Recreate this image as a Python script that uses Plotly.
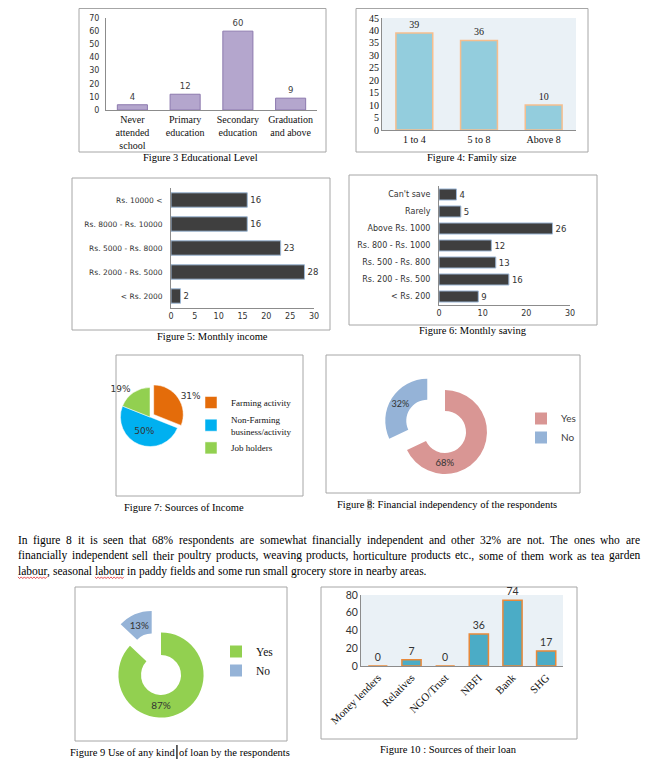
import plotly.graph_objects as go

# page body has an 8px margin: the figure is sized to fit the window without scrollbars
OFF = 8
W, H = 657 - 2 * OFF, 770 - 2 * OFF


def px_x(v):
    return (v - OFF) / W


def px_y(v):
    return 1 - (v - OFF) / H


SERIF = "Liberation Serif"
SANS = "DejaVu Sans"
CAL = "Lato"

# ---------------- data ----------------
edu_categories = ["Never<br>attended<br>school", "Primary<br>education",
                  "Secondary<br>education", "Graduation<br>and above"]
edu_values = [4, 12, 60, 9]

family_categories = ["1 to 4", "5 to 8", "Above 8"]
family_values = [39, 36, 10]

income_categories = ["< Rs. 2000", "Rs. 2000 - Rs. 5000", "Rs. 5000 - Rs. 8000",
                     "Rs. 8000 - Rs. 10000", "Rs. 10000 <"]
income_values = [2, 28, 23, 16, 16]

saving_categories = ["< Rs. 200", "Rs. 200 - Rs. 500", "Rs. 500 - Rs. 800",
                     "Rs. 800 - Rs. 1000", "Above Rs. 1000", "Rarely", "Can't save"]
saving_values = [9, 16, 13, 12, 26, 5, 4]

income_source_labels = ["Farming activity", "Non-Farming<br>business/activity", "Job holders"]
income_source_values = [31, 50, 19]

independency_labels = ["Yes", "No"]
independency_values = [68, 32]

loan_use_labels = ["Yes", "No"]
loan_use_values = [87, 13]

loan_source_categories = ["Money lenders", "Relatives", "NGO/Trust", "NBFI", "Bank", "SHG"]
loan_source_values = [0, 7, 0, 36, 74, 17]

captions = [
    ("Figure 3 Educational Level", 200, 158),
    ("Figure 4: Family size", 472, 158),
    ("Figure 5: Monthly income", 212, 336),
    ("Figure 6: Monthly saving", 473, 331),
    ("Figure 7: Sources of Income", 184, 507),
    ("Figure 10 : Sources of their loan", 448, 749),
]
caption8 = ("Figure ", "8", ": Financial independency of the respondents")
caption9 = ("Figure 9 Use of any kind", "of loan by the respondents")

paragraph = [
    "In figure 8 it is seen that 68% respondents are somewhat financially independent and other 32% are not. The ones who are",
    "financially independent sell their poultry products, weaving products, horticulture products etc., some of them work as tea garden",
    "labour, seasonal labour in paddy fields and some run small grocery store in nearby areas.",
]

# Times / Liberation Serif advance widths (1/1000 em) for text layout
TIMES = {' ': 250, ',': 250, '.': 250, '%': 833, ':': 278, '-': 333, '/': 278, "'": 333,
         'A': 722, 'B': 667, 'C': 667, 'D': 722, 'E': 611, 'F': 556, 'G': 722, 'H': 722,
         'I': 333, 'J': 389, 'K': 722, 'L': 611, 'M': 889, 'N': 722, 'O': 722, 'P': 556,
         'Q': 722, 'R': 667, 'S': 556, 'T': 611, 'U': 722, 'V': 722, 'W': 944, 'X': 722,
         'Y': 722, 'Z': 611,
         'a': 444, 'b': 500, 'c': 444, 'd': 500, 'e': 444, 'f': 333, 'g': 500, 'h': 500,
         'i': 278, 'j': 278, 'k': 500, 'l': 278, 'm': 778, 'n': 500, 'o': 500, 'p': 500,
         'q': 500, 'r': 333, 's': 389, 't': 278, 'u': 500, 'v': 500, 'w': 722, 'x': 500,
         'y': 500, 'z': 444}


def tw(s, size):
    return sum(TIMES.get(c, 500) for c in s) * size / 1000


fig = go.Figure()

# ---------- Figure 3: educational level ----------
fig.add_trace(go.Bar(
    x=edu_categories, y=edu_values, xaxis="x", yaxis="y", width=0.57,
    marker=dict(color="#B4A6CD", line=dict(color="#8C79AE", width=1)),
    text=edu_values, textposition="outside", constraintext="none", cliponaxis=False,
    textfont=dict(family=SANS, size=8.5, color="#404040"),
    showlegend=False, hoverinfo="skip"))

# ---------- Figure 4: family size ----------
fig.add_trace(go.Bar(
    x=family_categories, y=family_values, xaxis="x2", yaxis="y2", width=0.57,
    marker=dict(color="#93CDDD", line=dict(color="#F6BE8E", width=1.5)),
    text=family_values, textposition="outside", constraintext="none", cliponaxis=False,
    textfont=dict(family=SERIF, size=10, color="#222"),
    showlegend=False, hoverinfo="skip"))

# ---------- Figure 5: monthly income ----------
fig.add_trace(go.Bar(
    x=income_values, y=income_categories, orientation="h", xaxis="x3", yaxis="y3", width=0.6,
    marker=dict(color="#3F3F3F", line=dict(color="#9DB8D6", width=1)),
    text=income_values, textposition="outside", constraintext="none", cliponaxis=False,
    textfont=dict(family=SANS, size=8.5, color="#333"),
    showlegend=False, hoverinfo="skip"))

# ---------- Figure 6: monthly saving ----------
fig.add_trace(go.Bar(
    x=saving_values, y=saving_categories, orientation="h", xaxis="x4", yaxis="y4", width=0.65,
    marker=dict(color="#3F3F3F", line=dict(color="#9DB8D6", width=1)),
    text=saving_values, textposition="outside", constraintext="none", cliponaxis=False,
    textfont=dict(family=SANS, size=8.5, color="#333"),
    showlegend=False, hoverinfo="skip"))

# ---------- Figure 10: sources of loan ----------
fig.add_trace(go.Bar(
    x=loan_source_categories, y=loan_source_values, xaxis="x5", yaxis="y5", width=0.57,
    marker=dict(color="#4BACC6", line=dict(color="#E8893A", width=1.5)),
    text=loan_source_values, textposition="outside", constraintext="none", cliponaxis=False,
    textfont=dict(family=CAL, size=10.5, color="#333"),
    showlegend=False, hoverinfo="skip"))

# ---------- Figure 7: sources of income (pie) ----------
fig.add_trace(go.Pie(
    labels=income_source_labels, values=income_source_values,
    domain=dict(x=[px_x(116), px_x(184)], y=[px_y(451), px_y(383)]),
    sort=False, direction="clockwise", rotation=0, pull=[0.15, 0, 0],
    marker=dict(colors=["#E46C0A", "#00B0F0", "#92D050"], line=dict(color="white", width=0.5)),
    textinfo="percent", textposition=["outside", "inside", "outside"],
    insidetextorientation="horizontal",
    textfont=dict(family=SANS, size=9, color="#333"),
    legend="legend", legendgroup="fig7", hoverinfo="skip"))

# ---------- Figure 8: financial independency (donut) ----------
fig.add_trace(go.Pie(
    labels=independency_labels, values=independency_values, hole=0.5,
    domain=dict(x=[px_x(382), px_x(508)], y=[px_y(495), px_y(369)]),
    sort=False, direction="clockwise", rotation=0, pull=[0, 0.5],
    marker=dict(colors=["#D99694", "#95B3D7"], line=dict(color="white", width=0)),
    textinfo="percent", insidetextorientation="horizontal", textposition="inside",
    textfont=dict(family=CAL, size=9.5, color="#333"),
    legend="legend2", legendgroup="fig8", hoverinfo="skip"))

# ---------- Figure 9: use of loan (donut) ----------
fig.add_trace(go.Pie(
    labels=loan_use_labels, values=loan_use_values, hole=0.47,
    domain=dict(x=[px_x(95), px_x(227)], y=[px_y(741), px_y(609)]),
    sort=False, direction="clockwise", rotation=0, pull=[0, 0.55],
    marker=dict(colors=["#92D050", "#95B3D7"], line=dict(color="white", width=0)),
    textinfo="percent", insidetextorientation="horizontal", textposition="inside",
    textfont=dict(family=CAL, size=10, color="#333"),
    legend="legend3", legendgroup="fig9", hoverinfo="skip"))

# ---------------- layout ----------------
AX = "#8C8C8C"
base = dict(showgrid=False, zeroline=False, fixedrange=True, showline=True, linecolor=AX,
            linewidth=1, automargin=False)

layout = dict(
    width=W, height=H, margin=dict(l=0, r=0, t=0, b=0, pad=0, autoexpand=False),
    paper_bgcolor="white", plot_bgcolor="rgba(0,0,0,0)",
    bargap=0.4, hovermode=False, showlegend=True,
    xaxis=dict(base, domain=[px_x(106), px_x(317)], anchor="y", type="category",
               ticks="", tickfont=dict(family=SERIF, size=10, color="#111")),
    yaxis=dict(base, domain=[px_y(110), px_y(18)], anchor="x", range=[0, 70], dtick=10,
               ticks="", ticklabelstandoff=4,
               tickfont=dict(family=SANS, size=8, color="#333")),
    xaxis2=dict(base, domain=[px_x(382), px_x(576)], anchor="y2", type="category",
                ticks="", tickfont=dict(family=SERIF, size=10, color="#111")),
    yaxis2=dict(base, domain=[px_y(130), px_y(18)], anchor="x2", range=[0, 45], dtick=5,
                ticks="", tickfont=dict(family=SERIF, size=10, color="#111")),
    xaxis3=dict(base, domain=[px_x(171), px_x(314)], anchor="y3", range=[0, 30], dtick=5,
                ticks="", tickfont=dict(family=SANS, size=8, color="#333")),
    yaxis3=dict(base, domain=[px_y(308), px_y(188)], anchor="x3", type="category",
                ticks="", ticklabelstandoff=6, tickfont=dict(family=SANS, size=7.5, color="#333")),
    xaxis4=dict(base, domain=[px_x(439), px_x(570)], anchor="y4", range=[0, 30], dtick=10,
                ticks="", tickfont=dict(family=SANS, size=8, color="#333")),
    yaxis4=dict(base, domain=[px_y(305), px_y(186)], anchor="x4", type="category",
                ticks="", ticklabelstandoff=6, tickfont=dict(family=SANS, size=8, color="#333")),
    xaxis5=dict(base, domain=[px_x(361), px_x(563)], anchor="y5", type="category",
                ticks="", tickangle=-45, tickfont=dict(family=SERIF, size=11, color="#111")),
    yaxis5=dict(base, domain=[px_y(666), px_y(595)], anchor="x5", range=[0, 80], dtick=20,
                ticks="", tickfont=dict(family=CAL, size=10.5, color="#333")),
    legend=dict(x=px_x(191), y=px_y(388), xanchor="left", yanchor="top",
                font=dict(family=SERIF, size=9, color="#111"), bgcolor="rgba(0,0,0,0)",
                itemwidth=30, traceorder="normal"),
    legend2=dict(x=px_x(521), y=px_y(404), xanchor="left", yanchor="top",
                 font=dict(family=CAL, size=10, color="#404040"), bgcolor="rgba(0,0,0,0)",
                 itemwidth=30, traceorder="normal"),
    legend3=dict(x=px_x(216), y=px_y(637), xanchor="left", yanchor="top",
                 font=dict(family=SERIF, size=11.5, color="#111"), bgcolor="rgba(0,0,0,0)",
                 itemwidth=30, traceorder="normal"),
)

shapes = []
# chart frames (top edges kept inside the visible page)
frames = [(79, 8.5, 326, 152), (356, 8.5, 588, 152), (72, 178, 330, 330), (349, 175, 597, 325),
          (116, 355, 303, 496), (326, 355, 580, 493), (75, 587, 287, 741), (321, 587, 577, 739)]
for x0, y0, x1, y1 in frames:
    shapes.append(dict(type="rect", xref="paper", yref="paper", x0=px_x(x0), x1=px_x(x1),
                       y0=px_y(y1), y1=px_y(y0), line=dict(color="#A6A6A6", width=1),
                       fillcolor="rgba(0,0,0,0)", layer="below"))
# tinted plot areas
for ax, yy in (("x2", "y2"), ("x5", "y5")):
    shapes.append(dict(type="rect", xref=f"{ax} domain", yref=f"{yy} domain", x0=0, x1=1, y0=0, y1=1,
                       fillcolor="#EAF1F6", line=dict(width=0), layer="below"))

annotations = []
for text, cx, cy in captions:
    annotations.append(dict(x=px_x(cx), y=px_y(cy), xref="paper", yref="paper", text=text,
                            showarrow=False, xanchor="center", yanchor="middle",
                            font=dict(family=SERIF, size=10.5, color="black")))

CFS = 10.5


def run_text(parts, cx, cy, highlight=None, gap=0.0):
    total = sum(tw(p, CFS) for p in parts) + gap * (len(parts) - 1)
    xc = cx - total / 2
    starts = []
    for i, part in enumerate(parts):
        starts.append(xc)
        annotations.append(dict(x=px_x(xc), y=px_y(cy), xref="paper", yref="paper", text=part,
                                showarrow=False, xanchor="left", yanchor="middle", borderpad=0,
                                borderwidth=0,
                                bgcolor="#D4D4D4" if i == highlight else "rgba(0,0,0,0)",
                                font=dict(family=SERIF, size=CFS, color="black")))
        xc += tw(part, CFS) + gap
    return starts


# caption of figure 8 with highlighted number
run_text(caption8, 447, 504, highlight=1)
# caption of figure 9 with the text cursor between "kind" and "of"
sp = tw(" ", CFS) + 1
st9 = run_text(caption9, 180, 752, gap=sp)
cur_x = st9[1] - sp / 2
shapes.append(dict(type="line", xref="paper", yref="paper", x0=px_x(cur_x), x1=px_x(cur_x),
                   y0=px_y(759), y1=px_y(745), line=dict(color="black", width=1.2)))

# paragraph (justified except last line)
PFS = 11.5
PX0, PX1 = 18, 640
para_y = [540, 555.5, 571]
for li, (line, yy) in enumerate(zip(paragraph, para_y)):
    words = line.split(" ")
    widths = [tw(w, PFS) for w in words]
    if li < len(paragraph) - 1:
        gap = (PX1 - PX0 - sum(widths)) / (len(words) - 1)
    else:
        gap = tw(" ", PFS)
    xcur = PX0
    for wi, (w, wd) in enumerate(zip(words, widths)):
        annotations.append(dict(x=px_x(xcur), y=px_y(yy), xref="paper", yref="paper", text=w,
                                showarrow=False, xanchor="left", yanchor="middle", borderpad=0,
                                borderwidth=0, font=dict(family=SERIF, size=PFS, color="black")))
        if li == len(paragraph) - 1 and w.startswith("labour"):
            # spell-check squiggle
            sx0, sx1 = xcur, xcur + tw("labour", PFS)
            pts = []
            k = 0
            xx = sx0
            while xx <= sx1:
                pts.append((px_x(xx), px_y(yy + 6.5 + (1.1 if k % 2 else -0.6))))
                xx += 1.6
                k += 1
            path = "M " + " L ".join(f"{a:.5f},{b:.5f}" for a, b in pts)
            shapes.append(dict(type="path", xref="paper", yref="paper", path=path,
                               line=dict(color="#E0242A", width=0.8)))
        xcur += wd + gap

layout["shapes"] = shapes
layout["annotations"] = annotations
fig.update_layout(**layout)
fig.write_html("out.html")
